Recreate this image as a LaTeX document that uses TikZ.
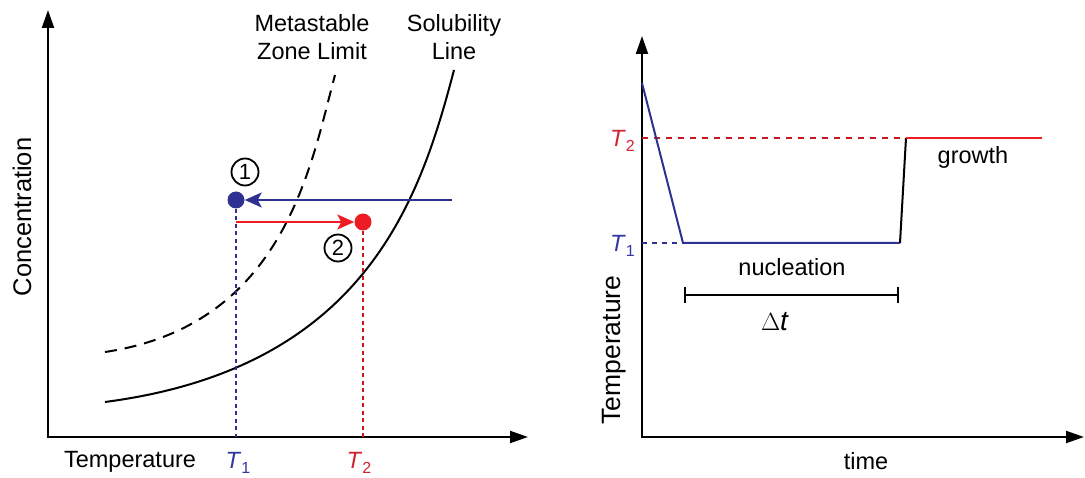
\documentclass[tikz,border=0pt]{standalone}
\usepackage{fontspec}
\setmainfont{Liberation Sans}
\usetikzlibrary{arrows.meta}
\definecolor{myblue}{RGB}{46,49,146}
\definecolor{myred}{RGB}{237,28,36}
\definecolor{labred}{RGB}{210,35,50}
\definecolor{labblue}{RGB}{50,55,160}
\tikzset{
  axis/.style={line width=2pt,-{Triangle[length=18pt,width=12pt]}},
  curve/.style={line width=2pt},
  dashcurve/.style={line width=2pt,dash pattern=on 12pt off 8pt},
  bluedot/.style={line width=2pt,myblue,dash pattern=on 4pt off 3.5pt},
  reddot/.style={line width=2pt,myred!85!black,dash pattern=on 4pt off 3.5pt},
  bluedash/.style={line width=1.6pt,myblue,dash pattern=on 5pt off 5pt},
  reddash/.style={line width=1.6pt,myred!85!black,dash pattern=on 6pt off 6pt},
  pt/.style={circle,inner sep=0pt,minimum size=17pt},
  numcirc/.style={circle,draw,line width=1.8pt,inner sep=0pt,minimum size=27pt,font=\fontsize{22}{22}\selectfont},
  lab/.style={font=\fontsize{23.5}{28}\selectfont,inner sep=0pt,align=center},
  harrow/.style={line width=2pt,-{Stealth[length=17pt,width=15pt,inset=4pt]}}
}
\newcommand{\tsub}[1]{\textit{T}\raisebox{-0.35ex}{\fontsize{16}{16}\selectfont #1}}
\begin{document}
\begin{tikzpicture}[x=1pt,y=-1pt]
\useasboundingbox (0,0) rectangle (1085,478);
% ---------- left plot ----------
\coordinate (Lo) at (48,437);
\coordinate (Ly) at (48,10);
\coordinate (Lx) at (528,437);
\draw[axis] (48,438) -- (Ly);
\draw[axis] (47,437) -- (Lx);
% solubility line
\coordinate (s0) at (105,402);
\coordinate (s1) at (454,70);
\draw[curve] (s0) .. controls (365,368) and (420,200) .. (s1);
% metastable limit
\coordinate (m0) at (105,352);
\coordinate (m1) at (335,75);
\draw[dashcurve] (m0) .. controls (285,325) and (310.7,165) .. (m1);
% points
\node[pt,fill=myblue] (p1) at (236,200) {};
\node[pt,fill=myred] (p2) at (363,222) {};
\coordinate (bs) at (452,200);
\coordinate (rs) at (236,222);
\coordinate (t1b) at (236,437);
\coordinate (t2b) at (363,437);
\draw[bluedot] (p1.south) -- (t1b);
\draw[reddot] (p2.south) -- (t2b);
\draw[harrow,myblue] (bs) -- (p1);
\draw[harrow,myred] (rs) -- (p2);
\node[numcirc] (c1) at (245,172) {1};
\node[numcirc] (c2) at (338,248) {2};
% labels
\node[lab] (xlab) at (130,462) {Temperature};
\node[lab,text=labblue] (lt1) at (238,463) {\tsub{1}};
\node[lab,text=labred] (lt2) at (359,463) {\tsub{2}};
\node[lab,rotate=90,font=\fontsize{25.5}{30}\selectfont] (ylab) at (22,217) {Concentration};
\node[lab] (mzl) at (312,37) {Metastable\\Zone Limit};
\node[lab] (sol) at (454,37) {Solubility\\Line};
% ---------- right plot ----------
\coordinate (Ry) at (642,36);
\coordinate (Rx) at (1084,437);
\draw[axis] (642,438) -- (Ry);
\draw[axis] (641,437) -- (Rx);
\coordinate (a0) at (642,83);
\coordinate (a1) at (683,243);
\coordinate (a2) at (900,243);
\coordinate (a3) at (906,138);
\coordinate (a4) at (1042,138);
\coordinate (y2) at (642,138);
\coordinate (y1) at (642,243);
\draw[reddash] (y2) -- (a3);
\draw[bluedash] (y1) -- (a1);
\draw[line width=2pt,myblue,line join=round] (a0) -- (a1) -- (a2);
\draw[line width=2pt] (a2) -- (a3);
\draw[line width=2pt,myred] (a3) -- (a4);
\node[lab,text=labred,anchor=east] (rt2) at (635,141) {\tsub{2}};
\node[lab,text=labblue,anchor=east] (rt1) at (635,246) {\tsub{1}};
\node[lab] (gr) at (973,157) {growth};
\node[lab] (nuc) at (792,267) {nucleation};
\coordinate (d1) at (685,295);
\coordinate (d2) at (898,295);
\draw[line width=2pt] (d1) -- (d2);
\draw[line width=2pt] (685,287) -- (685,303);
\draw[line width=2pt] (898,287) -- (898,303);
\node[lab,font=\fontsize{28}{30}\selectfont] (dt) at (775,322) {$\Delta$\textit{t}};
\node[lab,rotate=90,font=\fontsize{26.5}{30}\selectfont] (rylab) at (614,350) {Temperature};
\node[lab] (tl) at (866,461) {time};
\end{tikzpicture}
\end{document}
